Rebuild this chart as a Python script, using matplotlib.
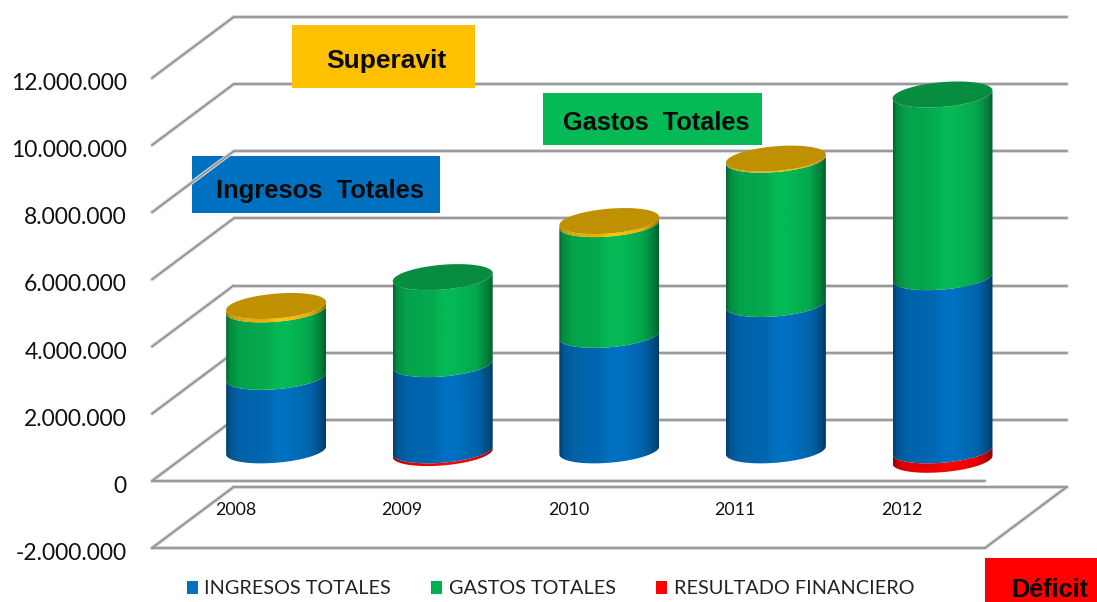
import numpy as np
import matplotlib
matplotlib.use("Agg")
import matplotlib.pyplot as plt
from matplotlib.patches import PathPatch, Rectangle, Polygon
from matplotlib.path import Path
from matplotlib.transforms import ScaledTranslation
from matplotlib.colors import to_rgb
from matplotlib.ticker import FuncFormatter

years = ["2008", "2009", "2010", "2011", "2012"]
ingresos = [2190000, 2570000, 3440000, 4360000, 5160000]
gastos = [2010000, 2590000, 3300000, 4300000, 5440000]
resultado = [100000, -80000, 90000, 30000, -280000]
y_ticks = [-2000000, 0, 2000000, 4000000, 6000000, 8000000, 10000000, 12000000]
series_names = ["INGRESOS TOTALES", "GASTOS TOTALES", "RESULTADO FINANCIERO"]

W, H = 1097, 602
BLUE, GREEN, RED, GOLD = "#0070C0", "#05B955", "#FF0000", "#FFC000"
LEG_GREEN = "#00B050"
CAP_GREEN, CAP_GOLD = "#078C40", "#BF9000"
DEPTH_X, DEPTH_Y = 0.49, 1817000      # wall depth in data units
RX = 0.30                             # cylinder radius in category units
AMP_A, AMP_B = 119000, 369000         # ellipse tilt and minor half-axis in value units

fig = plt.figure(figsize=(W / 100, H / 100), dpi=100, facecolor="white")
ax = fig.add_axes([152 / W, (H - 548) / H, 833 / W, 470 / H])
ax.patch.set_visible(False)
ax.set_xlim(-0.5, 4.5)
ax.set_ylim(-2000000, 12000000)
for s in ax.spines.values():
    s.set_visible(False)

GRID_DARK, GRID_SOFT = "#8F8F8F", "#D6D6D6"


def gline(xs, ys):
    ax.plot(xs, ys, color=GRID_SOFT, lw=2.8, zorder=1, clip_on=False, solid_capstyle="round")
    ax.plot(xs, ys, color=GRID_DARK, lw=1.2, zorder=1.1, clip_on=False, solid_capstyle="round")


x0, x1 = ax.get_xlim()
for v in y_ticks:
    gline([x0, x0 + DEPTH_X], [v, v + DEPTH_Y])
    gline([x0 + DEPTH_X, x1 + DEPTH_X], [v + DEPTH_Y, v + DEPTH_Y])
gline([x0, x1], [0, 0])
gline([x0, x1], [-2000000, -2000000])
gline([x1, x1 + DEPTH_X], [-2000000, -2000000 + DEPTH_Y])


def arc(cx, v, a=np.pi, b=2 * np.pi, n=60):
    t = np.linspace(a, b, n)
    return cx + RX * np.cos(t), v + AMP_A * np.cos(t) + AMP_B * np.sin(t)


def gradient(color):
    stops = [0, 0.04, 0.14, 0.4, 0.5, 0.62, 0.84, 0.95, 1]
    vals = [0.55, 0.76, 0.88, 0.92, 1.0, 1.0, 0.90, 0.68, 0.52]
    xs = np.linspace(0, 1, 200)
    return (np.interp(xs, stops, vals)[None, :, None] * np.array(to_rgb(color))[None, None, :]).clip(0, 1)


def side(cx, v0, v1, color, z):
    xa, ya = arc(cx, v0)
    xb, yb = arc(cx, v1)
    verts = np.r_[np.c_[xa, ya], np.c_[xb, yb][::-1], [[xa[0], ya[0]]]]
    clip = PathPatch(Path(verts), transform=ax.transData, facecolor="none", edgecolor="none")
    ax.add_patch(clip)
    im = ax.imshow(gradient(color), extent=(cx - RX, cx + RX, v0 - 600000, v1 + 600000),
                   aspect="auto", zorder=z, interpolation="bilinear", origin="lower")
    im.set_clip_path(clip)
    im.set_clip_box(fig.bbox)


for i in range(len(years)):
    cx = i + DEPTH_X / 2
    base = DEPTH_Y / 2
    ing, gas, res = ingresos[i], gastos[i], resultado[i]
    z = 3 + i
    if res < 0:
        side(cx, base + res, base, RED, z)
    side(cx, base, base + ing, BLUE, z + 0.1)
    side(cx, base + ing, base + ing + gas, GREEN, z + 0.2)
    top = base + ing + gas
    cap = CAP_GREEN
    if res > 0:
        side(cx, top, top + res, GOLD, z + 0.3)
        top += res
        cap = CAP_GOLD
    xe, ye = arc(cx, top, 0, 2 * np.pi, 120)
    ax.add_patch(Polygon(np.c_[xe, ye], closed=True, facecolor=cap, edgecolor="none",
                         zorder=z + 0.4, clip_on=False))

ax.set_xlim(-0.5, 4.5)
ax.set_ylim(-2000000, 12000000)

TF = "Lato"
ax.set_yticks(y_ticks)
ax.yaxis.set_major_formatter(FuncFormatter(lambda v, _: f"{int(v):,}".replace(",", ".")))
ax.tick_params(axis="y", length=0, pad=18, labelsize=16.5, labelcolor="#111111")
shift = ScaledTranslation(0, -3.5 / 100, fig.dpi_scale_trans)
for lab in ax.get_yticklabels():
    lab.set_fontfamily(TF)
    lab.set_transform(lab.get_transform() + shift)

ax.spines["bottom"].set_position(("data", 0))
ax.set_xticks(range(len(years)))
ax.set_xticklabels(years)
ax.tick_params(axis="x", length=0, pad=15, labelsize=12.8, labelcolor="#111111")
for lab in ax.get_xticklabels():
    lab.set_fontfamily(TF)


def box(l, t, r, b, color, text, tx, ty, size, z):
    ax.add_patch(Rectangle((l / W, 1 - b / H), (r - l) / W, (b - t) / H, transform=fig.transFigure,
                           facecolor=color, edgecolor="none", zorder=z, clip_on=False))
    ax.text(tx / W, 1 - ty / H, text, transform=fig.transFigure, ha="center", va="center",
            fontsize=size, fontweight="bold", family="Liberation Sans", color="#0A0A0A",
            zorder=z + 0.1, clip_on=False)


box(292, 25, 475, 88, GOLD, "Superavit", 386, 61, 19, 2)
box(192, 156, 440, 213, BLUE, "Ingresos  Totales", 320, 191, 18.4, 0.5)
box(543, 93, 762, 145, GREEN, "Gastos  Totales", 656, 123, 18.3, 2)
box(985, 558, 1097, 602, RED, "Déficit", 1049.5, 590, 18.2, 2)

handles = [Rectangle((0, 0), 1, 1, facecolor=c, edgecolor="none") for c in (BLUE, LEG_GREEN, RED)]
ax.legend(handles, series_names, loc="center", bbox_to_anchor=(550.5 / W, 1 - 589 / H),
          bbox_transform=fig.transFigure, ncol=3, frameon=False, handlelength=0.55, handleheight=0.62,
          handletextpad=0.34, columnspacing=2.02, borderpad=0,
          prop={"family": TF, "size": 14.3}, labelcolor="#222222")

fig.savefig("out.png", dpi=100, facecolor="white")
